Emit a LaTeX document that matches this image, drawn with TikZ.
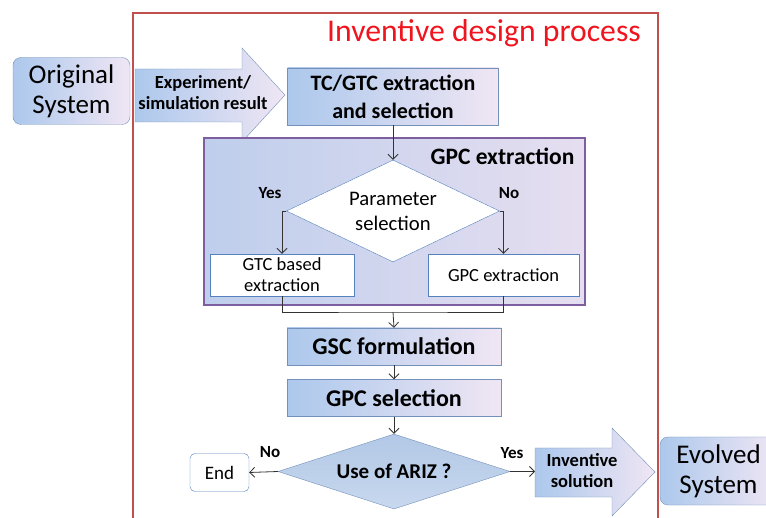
\documentclass[tikz,border=0pt]{standalone}
\usepackage{fontspec}
\setmainfont{Carlito}
\usetikzlibrary{shapes.geometric,arrows.meta}
\definecolor{framered}{RGB}{192,80,77}
\definecolor{titlered}{RGB}{240,20,30}
\definecolor{edge}{RGB}{115,145,185}
\definecolor{lblue}{RGB}{172,200,236}
\definecolor{lpink}{RGB}{240,230,244}
\definecolor{gpcedge}{RGB}{125,95,160}
\definecolor{gpcleft}{RGB}{190,206,236}
\definecolor{gpcright}{RGB}{230,222,240}
\definecolor{wline}{RGB}{85,130,190}
\definecolor{zblue}{RGB}{178,200,230}
\definecolor{zlight}{RGB}{200,216,238}

\begin{document}
\begin{tikzpicture}[x=1pt,y=-1pt,
    sysbox/.style={draw=edge, rounded corners=8pt, left color=lblue, right color=lpink,
      minimum width=117pt, minimum height=67pt, align=center, font=\fontsize{27}{30}\selectfont},
    stepbox/.style={draw=edge, left color=lblue, right color=lpink, minimum width=214pt,
      align=center, font=\bfseries\fontsize{24}{28}\selectfont},
    whitebox/.style={draw=wline, fill=white, minimum height=42pt, align=center,
      font=\fontsize{18.5}{21}\selectfont},
    decision/.style={diamond, inner sep=0pt, align=center},
    yesno/.style={font=\bfseries\fontsize{17}{20}\selectfont},
    arr/.style={draw=black!80, line width=0.8pt, -{Straight Barb[length=5pt,width=10pt]}},
    bigarrow/.style={draw=edge, left color=lblue, right color=lpink},
    arrowtext/.style={align=center, font=\bfseries\fontsize{18.5}{21}\selectfont}]
  \clip (0,0) rectangle (766,518);

  \draw[framered, line width=1.5pt] (133,530) -- (133,13) -- (658,13) -- (658,530);
  \node[text=titlered, font=\fontsize{31.7}{36}\selectfont] (title) at (484,33) {Inventive design process};

  \node[sysbox] (orig) at (71.5,91) {Original\\System};
  \draw[bigarrow] (135,69) -- (242,69) -- (242,48) -- (285,95) -- (242,142) -- (242,122) -- (135,122) -- cycle;
  \node[arrowtext] (expres) at (203,93) {Experiment/\\simulation result};
  \node[stepbox, minimum width=211pt, minimum height=57pt, font=\bfseries\fontsize{22}{28}\selectfont] (tcgtc) at (393,96.5) {TC/GTC extraction\\and selection};

  \draw[draw=gpcedge, line width=1.5pt, left color=gpcleft, right color=gpcright] (204,138) rectangle (585,305);
  \node[anchor=east, font=\bfseries\fontsize{23.5}{26}\selectfont] (gpchead) at (578,156) {GPC extraction};
  \node[decision, aspect=2.1, draw=wline, fill=white, minimum width=213pt, minimum height=102pt,
    font=\fontsize{20.7}{25}\selectfont] (param) at (393,211) {Parameter\\selection};
  \node[whitebox, minimum width=144pt] (gtcbased) at (282,275) {GTC based\\extraction};
  \node[whitebox, minimum width=151pt] (gpcinner) at (503.5,275) {GPC extraction};
  \node[yesno] (yes1) at (270,193) {Yes};
  \node[yesno] (no1) at (509,193) {No};

  \draw[arr] (tcgtc.south) -- (param.north);
  \draw[arr] (param.west) -| (gtcbased.north);
  \draw[arr] (param.east) -| (gpcinner.north);
  \coordinate (merge) at (393,312);
  \draw[draw=black!80, line width=0.8pt] (gtcbased.south) |- (merge) -| (gpcinner.south);

  \node[stepbox, minimum height=37pt] (gsc) at (394,346.5) {GSC formulation};
  \node[stepbox, minimum height=37pt] (gpcsel) at (394,398) {GPC selection};
  \draw[arr] (merge) -- (gsc.north);
  \draw[arr] (gsc) -- (gpcsel);

  \node[decision, aspect=3.1, draw=edge, top color=zblue, bottom color=zlight, minimum width=232pt, minimum height=75pt,
    font=\bfseries\fontsize{21}{24}\selectfont] (ariz) at (394,471.5) {Use of ARIZ ?};
  \draw[arr] (gpcsel) -- (ariz);
  \node[draw=wline, fill=white, rounded corners=5pt, minimum width=59pt, minimum height=38pt,
    font=\fontsize{19}{22}\selectfont] (endnode) at (219.5,472.5) {End};
  \draw[arr] (ariz.west) -- (endnode.east);
  \node[yesno] (no2) at (270,452) {No};
  \node[yesno] (yes2) at (512,453) {Yes};
  \coordinate (solin) at (535,471.5);
  \draw[arr] (ariz.east) -- (solin);

  \draw[bigarrow] (535,448) -- (612,448) -- (612,428) -- (655,472) -- (612,516) -- (612,497) -- (535,497) -- cycle;
  \node[arrowtext] (invsol) at (582,471) {Inventive\\solution};
  \node[sysbox, minimum height=68pt] (evolved) at (718.5,471) {Evolved\\System};
\end{tikzpicture}
\end{document}
